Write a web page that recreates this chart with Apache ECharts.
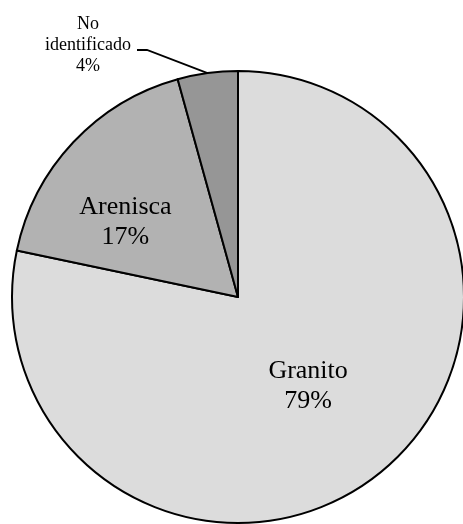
<!DOCTYPE html>
<html><head><meta charset="utf-8">
<script src="https://cdn.jsdelivr.net/npm/echarts@6/dist/echarts.min.js"></script>
<style>html,body{margin:0;padding:0;background:#fff}#c{width:463px;height:524px}</style>
</head><body><div id="c"></div>
<script>
const categories = ["Granito", "Arenisca", "No identificado"];
const values = [78.3, 17.4, 4.3];
const percentLabels = ["79%", "17%", "4%"];
const colors = ["#dcdcdc", "#b2b2b2", "#969696"];

const chart = echarts.init(document.getElementById('c'), null, {renderer: 'canvas'});
const data = categories.map((c, i) => ({
  name: c,
  value: values[i],
  itemStyle: {color: colors[i]},
  label: i === 2 ? {
    position: 'outside', fontSize: 18, lineHeight: 21
  } : {position: 'inside', fontSize: 26, lineHeight: 30},
  labelLine: i === 2 ? {show: true, lineStyle: {color: '#000', width: 1.8}} : {show: false}
}));
chart.setOption({
  animation: false,
  series: [{
    type: 'pie',
    center: [238, 297],
    radius: [0, 226],
    startAngle: 90,
    clockwise: true,
    data: data,
    itemStyle: {borderColor: '#000', borderWidth: 2},
    label: {
      show: true,
      color: '#000',
      fontFamily: 'Liberation Serif',
      formatter: p => p.name.replace(' ', '\n') + '\n' + percentLabels[p.dataIndex]
    },
    labelLayout: function (p) {
      if (p.dataIndex === 1) return {dx: -28, dy: 5};
      if (p.dataIndex === 2) {
        const pts = p.labelLinePoints;
        return {x: 88, y: 45, align: 'center', verticalAlign: 'middle',
          labelLinePoints: [pts ? pts[0] : [206, 72], [147, 50], [137, 50]]};
      }
      if (p.dataIndex === 0) return {dx: -3, dy: -1};
    }
  }]
});
</script></body></html>
